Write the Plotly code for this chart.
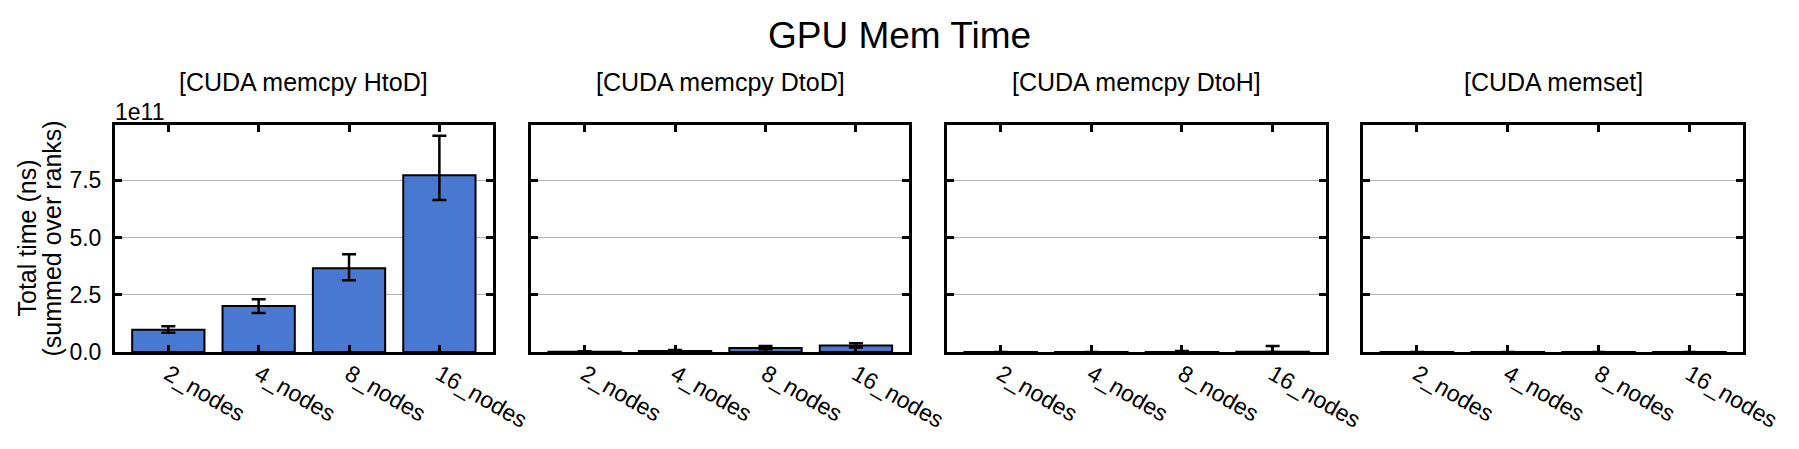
import plotly.graph_objects as go

# ---------------- data (units: ns) ----------------
categories = ["2_nodes", "4_nodes", "8_nodes", "16_nodes"]
panel_titles = ["[CUDA memcpy HtoD]", "[CUDA memcpy DtoD]", "[CUDA memcpy DtoH]", "[CUDA memset]"]

htod = [0.976e11, 2.01e11, 3.655e11, 7.718e11]
htod_err_plus = [0.145e11, 0.29e11, 0.612e11, 1.719e11]
htod_err_minus = [0.131e11, 0.31e11, 0.524e11, 1.078e11]

dtod = [0.01e11, 0.04e11, 0.18e11, 0.28e11]
dtod_err_plus = [0.02e11, 0.05e11, 0.08e11, 0.10e11]
dtod_err_minus = [0.01e11, 0.03e11, 0.06e11, 0.08e11]

dtoh = [0.002e11, 0.002e11, 0.005e11, 0.01e11]
dtoh_err_plus = [0.0, 0.0, 0.04e11, 0.25e11]
dtoh_err_minus = [0.002e11, 0.002e11, 0.005e11, 0.01e11]

memset = [0.001e11, 0.001e11, 0.001e11, 0.001e11]
memset_err_plus = [0.0, 0.0, 0.0, 0.0]
memset_err_minus = [0.0, 0.0, 0.0, 0.0]

ytick_vals = [0.0, 2.5e11, 5.0e11, 7.5e11]
ytick_text = ["0.0", "2.5", "5.0", "7.5"]
y_max = 9.91e11

series = [
    (htod, htod_err_plus, htod_err_minus),
    (dtod, dtod_err_plus, dtod_err_minus),
    (dtoh, dtoh_err_plus, dtoh_err_minus),
    (memset, memset_err_plus, memset_err_minus),
]

# ---------------- styling ----------------
FONT = "Liberation Sans, Arial, Helvetica, sans-serif"
BAR_COLOR = "#4878CF"
W, H = 1799, 449
ML, MR, MT, MB = 115, 56, 125, 97
domains = [(0.0, 0.2320), (0.2557, 0.4879), (0.5112, 0.7439), (0.7668, 1.0)]

fig = go.Figure()
layout_axes = {}
for i, (vals, ep, em) in enumerate(series):
    n = "" if i == 0 else str(i + 1)
    fig.add_trace(go.Bar(
        x=categories, y=vals,
        xaxis="x" + n, yaxis="y" + n,
        width=0.8,
        marker=dict(color=BAR_COLOR, line=dict(color="black", width=2)),
        error_y=dict(type="data", symmetric=False, array=ep, arrayminus=em,
                     color="black", thickness=2.5, width=7),
        showlegend=False,
        hoverinfo="x+y",
    ))
    layout_axes["xaxis" + n] = dict(
        domain=list(domains[i]), anchor="y" + n,
        type="category", range=[-0.59, 3.59],
        showline=True, linecolor="black", linewidth=3, mirror="ticks",
        ticks="inside", ticklen=7, tickwidth=2.5, tickcolor="black",
        tickangle=30, showgrid=False, zeroline=False,
        tickfont=dict(family=FONT, size=23, color="black"),
        ticklabelstandoff=-3,
    )
    layout_axes["yaxis" + n] = dict(
        domain=[0, 1], anchor="x" + n,
        range=[0, y_max],
        tickvals=ytick_vals, ticktext=ytick_text,
        showticklabels=(i == 0),
        showline=True, linecolor="black", linewidth=3, mirror="ticks",
        ticks="inside", ticklen=7, tickwidth=2.5, tickcolor="black",
        showgrid=True, gridcolor="#b0b0b0", gridwidth=1.3, zeroline=False,
        tickfont=dict(family=FONT, size=23, color="black"),
        ticklabelstandoff=6,
    )

annotations = []
for i, t in enumerate(panel_titles):
    annotations.append(dict(
        text=t, xref="paper", yref="paper",
        x=(domains[i][0] + domains[i][1]) / 2, y=1, yanchor="bottom", xanchor="center",
        yshift=27, showarrow=False,
        font=dict(family=FONT, size=25, color="black"),
    ))
annotations.append(dict(
    text="1e11", xref="paper", yref="paper", x=0, y=1, xanchor="left", yanchor="bottom",
    xshift=-2, yshift=-2, showarrow=False, font=dict(family=FONT, size=23, color="black"),
))
annotations.append(dict(
    text="Total time (ns)", xref="paper", yref="paper", x=0, y=0.5,
    xanchor="center", yanchor="middle", xshift=-89, textangle=-90, showarrow=False,
    font=dict(family=FONT, size=25, color="black"),
))
annotations.append(dict(
    text="(summed over ranks)", xref="paper", yref="paper", x=0, y=0.5,
    xanchor="center", yanchor="middle", xshift=-64, textangle=-90, showarrow=False,
    font=dict(family=FONT, size=25, color="black"),
))

fig.update_layout(
    width=W, height=H,
    margin=dict(l=ML, r=MR, t=MT, b=MB, autoexpand=False),
    paper_bgcolor="white", plot_bgcolor="white",
    title=dict(text="GPU Mem Time", x=0.5, xanchor="center", y=0.923, yanchor="middle",
               font=dict(family=FONT, size=37, color="black")),
    annotations=annotations,
    bargap=0.2,
    **layout_axes,
)

fig.write_html(
    "out.html",
    config={"displayModeBar": False},
    post_script="document.body.style.margin='0';document.body.style.overflow='hidden';",
)
